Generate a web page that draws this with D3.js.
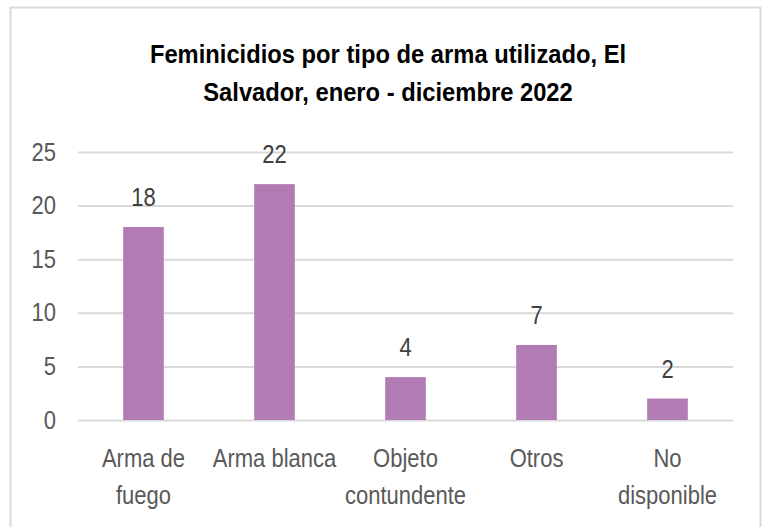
<!DOCTYPE html>
<html>
<head>
<meta charset="utf-8">
<script src="https://cdn.jsdelivr.net/npm/d3@7"></script>
<style>
  body { margin: 0; background: #fff; }
  text { font-family: "Liberation Sans", sans-serif; }
</style>
</head>
<body>
<svg id="chart" width="771" height="527"></svg>
<script>
(function () {
  'use strict';

  var categories = [['Arma de', 'fuego'], ['Arma blanca'], ['Objeto', 'contundente'], ['Otros'], ['No', 'disponible']];
  var values = [18, 22, 4, 7, 2];
  var yTicks = [0, 5, 10, 15, 20, 25];
  var titleLines = ['Feminicidios por tipo de arma utilizado, El', 'Salvador, enero - diciembre 2022'];

  var svg = d3.select('#chart'),
      margin = {top: 152, right: 38, bottom: 107, left: 78},
      width = +svg.attr('width') - margin.left - margin.right,
      height = +svg.attr('height') - margin.top - margin.bottom,
      squeeze = 0.88; // Calibri-like narrow text

  // chart frame
  svg.append('rect')
      .attr('x', 10.5)
      .attr('y', 7.5)
      .attr('width', 750)
      .attr('height', 530)
      .attr('fill', '#fff')
      .attr('stroke', '#d9d9d9')
      .attr('stroke-width', 2);

  svg.append('g')
      .attr('transform', 'translate(388,63) scale(0.95,1)')
      .append('text')
      .attr('text-anchor', 'middle')
      .style('font-size', '25px')
      .style('font-weight', 'bold')
      .attr('fill', '#000')
      .selectAll('tspan')
      .data(titleLines)
      .enter().append('tspan')
        .attr('x', 0)
        .attr('dy', function (d, i) { return i === 0 ? 0 : 38; })
        .text(function (d) { return d; });

  var g = svg.append('g')
      .attr('transform', 'translate(' + margin.left + ',' + margin.top + ')');

  var x = d3.scaleBand()
      .domain(d3.range(values.length))
      .range([0, width])
      .paddingInner(0.69)
      .paddingOuter(0.345);

  var y = d3.scaleLinear()
      .domain([0, 25])
      .range([height, 0]);

  // gridlines + y tick labels
  var yAxis = d3.axisLeft(y)
      .tickValues(yTicks)
      .tickSize(-width)
      .tickPadding(22);

  var yAxisGroup = g.append('g')
      .attr('class', 'y axis')
      .call(yAxis);

  yAxisGroup.select('.domain').remove();
  yAxisGroup.selectAll('.tick line')
      .attr('stroke', '#d9d9d9')
      .attr('stroke-width', 2);
  yAxisGroup.selectAll('.tick text')
      .attr('x', 0)
      .attr('transform', 'translate(-22,0) scale(' + squeeze + ',1)')
      .attr('fill', '#595959')
      .style('font-size', '25px')
      .style('font-family', '"Liberation Sans", sans-serif');

  g.append('g')
      .attr('class', 'bars')
      .selectAll('rect')
      .data(values)
      .enter().append('rect')
        .attr('x', function (d, i) { return x(i); })
        .attr('y', function (d) { return y(d); })
        .attr('width', x.bandwidth())
        .attr('height', function (d) { return height - y(d); })
        .attr('fill', '#b17bb4');

  g.append('g')
      .attr('class', 'labels')
      .selectAll('text')
      .data(values)
      .enter().append('text')
        .attr('transform', function (d, i) {
          return 'translate(' + (x(i) + x.bandwidth() / 2) + ',' + (y(d) - 21) + ') scale(' + squeeze + ',1)';
        })
        .attr('text-anchor', 'middle')
        .attr('fill', '#404040')
        .style('font-size', '25px')
        .text(function (d) { return d; });

  // x category labels, wrapped on two lines
  var xLabels = g.append('g')
      .attr('class', 'x axis')
      .selectAll('text')
      .data(categories)
      .enter().append('text')
        .attr('text-anchor', 'middle')
        .attr('fill', '#595959')
        .style('font-size', '25px')
        .attr('transform', function (d, i) {
          return 'translate(' + (x(i) + x.bandwidth() / 2) + ',' + (height + 47) + ') scale(' + squeeze + ',1)';
        });

  xLabels.selectAll('tspan')
      .data(function (d) { return d; })
      .enter().append('tspan')
        .attr('x', 0)
        .attr('dy', function (d, i) { return i === 0 ? 0 : 37; })
        .text(function (d) { return d; });
})();
</script>
</body>
</html>
